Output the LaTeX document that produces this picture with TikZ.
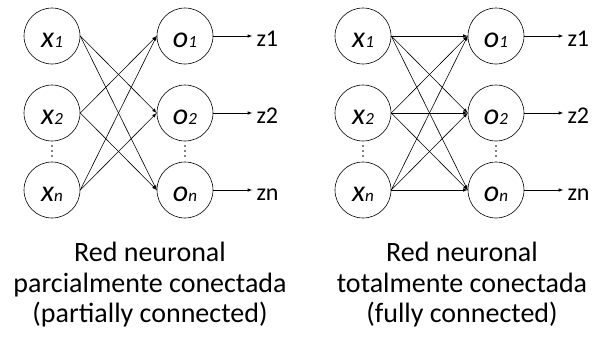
\documentclass[tikz,border=0pt]{standalone}
\usepackage{fontspec}
\setmainfont{Carlito}
\usetikzlibrary{positioning}

\tikzset{
  neuron/.style={circle, draw, line width=0.6pt, minimum size=56pt, inner sep=0pt,
    text height=23pt, text depth=0pt},
  outlbl/.style={inner sep=4pt, text height=21pt, text depth=0pt,
    font=\fontsize{24}{24}\selectfont},
  conn/.style={-latex, line width=0.6pt},
  caption/.style={align=center, inner sep=0pt, anchor=north,
    font=\fontsize{28}{30.5}\selectfont}
}
\newcommand{\nlbl}[2]{\fontsize{30}{30}\selectfont\textit{#1}{\fontsize{17}{17}\selectfont\textit{#2}}}
\newcommand{\vdotcol}[2]{\foreach \dy in {-5,0,5} \fill (#1,#2+\dy) circle (0.9pt);}

\begin{document}
\begin{tikzpicture}[x=1pt, y=-1pt]
  \useasboundingbox (0,0) rectangle (600,341);

  % Partially connected network
  \node[neuron] (px1) at (52,36)  {\nlbl{x}{1}};
  \node[neuron] (px2) at (52,113) {\nlbl{x}{2}};
  \node[neuron] (pxn) at (52,190) {\nlbl{x}{n}};
  \node[neuron] (po1) at (185,36)  {\nlbl{o}{1}};
  \node[neuron] (po2) at (185,113) {\nlbl{o}{2}};
  \node[neuron] (pon) at (185,190) {\nlbl{o}{n}};
  \vdotcol{52}{151}
  \vdotcol{185}{151}

  \node[outlbl, right=39pt of po1] (pz1) {z1};
  \node[outlbl, right=39pt of po2] (pz2) {z2};
  \node[outlbl, right=39pt of pon] (pzn) {zn};

  \foreach \a/\b in {x1/o2, x1/on, x2/o1, x2/on, xn/o1, xn/o2}
    \draw[conn] (p\a.east) -- (p\b.west);
  \foreach \i in {1,2,n}
    \draw[conn] (po\i) -- (pz\i);

  \node[caption] (pcap) at (150,242) {Red neuronal\\parcialmente conectada\\(partially connected)};

  % Fully connected network
  \node[neuron] (fx1) at (363,36)  {\nlbl{x}{1}};
  \node[neuron] (fx2) at (363,113) {\nlbl{x}{2}};
  \node[neuron] (fxn) at (363,190) {\nlbl{x}{n}};
  \node[neuron] (fo1) at (496,36)  {\nlbl{o}{1}};
  \node[neuron] (fo2) at (496,113) {\nlbl{o}{2}};
  \node[neuron] (fon) at (496,190) {\nlbl{o}{n}};
  \vdotcol{363}{151}
  \vdotcol{496}{151}

  \node[outlbl, right=39pt of fo1] (fz1) {z1};
  \node[outlbl, right=39pt of fo2] (fz2) {z2};
  \node[outlbl, right=39pt of fon] (fzn) {zn};

  \foreach \a in {x1,x2,xn}
    \foreach \b in {o1,o2,on}
      \draw[conn] (f\a.east) -- (f\b.west);
  \foreach \i in {1,2,n}
    \draw[conn] (fo\i) -- (fz\i);

  \node[caption] (fcap) at (462,242) {Red neuronal\\totalmente conectada\\(fully connected)};
\end{tikzpicture}
\end{document}
